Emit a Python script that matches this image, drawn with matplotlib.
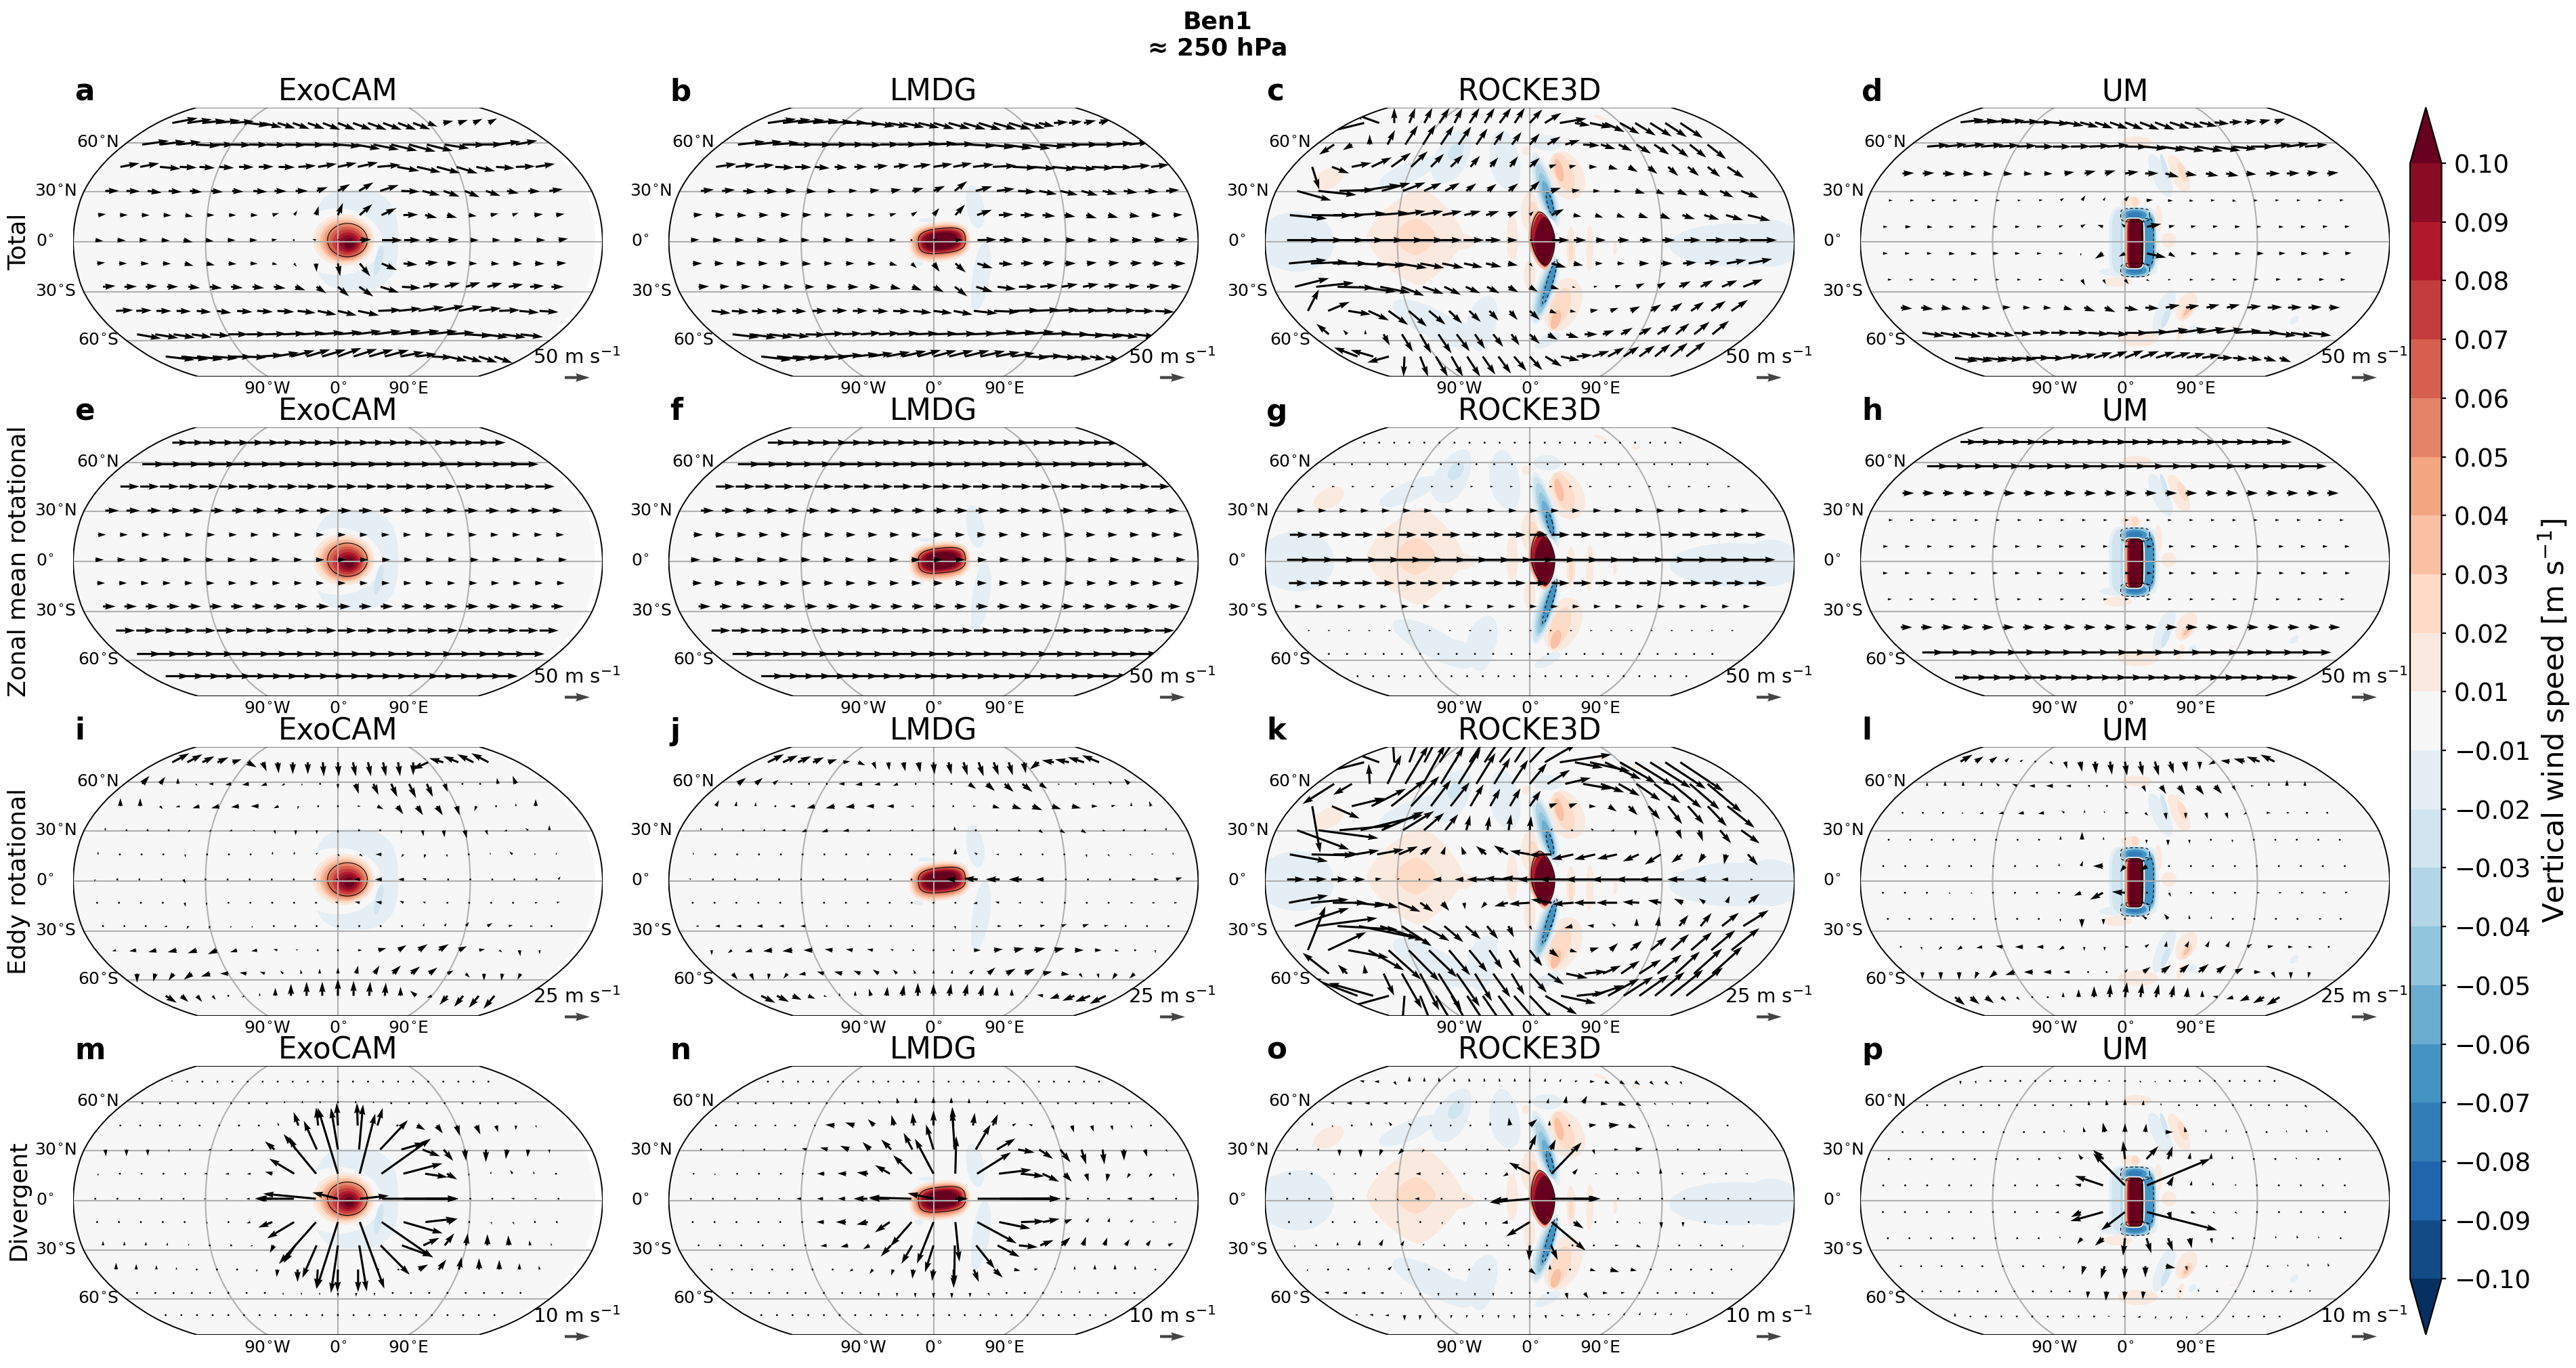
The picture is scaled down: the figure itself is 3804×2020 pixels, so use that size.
import matplotlib
matplotlib.use("Agg")
import matplotlib.pyplot as plt
import numpy as np
from matplotlib.colors import BoundaryNorm
from matplotlib.cm import ScalarMappable
from matplotlib.patches import Polygon
from matplotlib.ticker import FuncFormatter

models = ["ExoCAM", "LMDG", "ROCKE3D", "UM"]
row_names = ["Total", "Zonal mean rotational", "Eddy rotational", "Divergent"]
key_speeds = [50, 50, 25, 10]
panel_letters = "abcdefghijklmnop"
levels = [-0.10, -0.09, -0.08, -0.07, -0.06, -0.05, -0.04, -0.03, -0.02, -0.01,
          0.01, 0.02, 0.03, 0.04, 0.05, 0.06, 0.07, 0.08, 0.09, 0.10]

lats_11 = [74, 59, 45, 30.5, 16, 1, -13, -27, -41.5, -56, -71]
lats_um = [74.5, 57.7, 41, 24.8, 9, -7, -22.7, -39.5, -55, -72]
lons_22 = list(range(-165, 151, 15))
lons_23 = list(range(-165, 166, 15))

# zonal mean wind per arrow row, m/s
exocam_zonal = [34, 46, 38, 27, 16, 17, 16, 25, 38, 48, 47]
lmdg_zonal = [40, 46, 38, 26, 19, 19, 19, 24, 38, 48, 46]
rocke_zonal = [1, 3, 6, 16, 36, 50, 36, 14, 5, 3, 1]
um_zonal = [35, 44, 23, 8, 10, 10, 8, 23, 44, 36]

# eddy rotational wind, m/s
exocam_eddy_u = [
    [17, 15, 12, 11, 9, 9, 4, 1, 0, 0, 1, 1, 3, 3, 3, 2, 0, -16, -14, -15, -16, -17],
    [7, 5, 0, 2, -5, -6, -7, -6, -3, -1, 0, 0, 3, 5, 6, 7, 6, 3, 0, 0, -1, -3],
    [0, 0, 3, -4, -7, -8, -8, -8, -5, -1, 0, 0, 3, 6, 6, 6, 6, 3, -2, -2, 0, 0],
    [0, 0, 1, -1, -2, -2, -3, 2, 1, 0, 0, 0, 0, -1, 0, 1, 1, 2, 2, -3, -3, 0],
    [0, 0, 0, 0, 0, 0, 0, 0, 0, 0, 2, 2, 3, -6, -2, -1, 0, 0, -1, -3, 2, 1],
    [-1, 0, 0, 0, 2, 0, 0, 0, 0, 1, -3, -3, -6, -7, -6, -4, 0, 0, 0, 1, 2, 2],
    [0, 0, 0, 0, 1, 0, 1, 0, 0, 0, 0, -3, -5, -6, -4, -3, -1, 0, 0, 2, 3, 3],
    [0, 0, -2, -3, -2, -1, -1, -1, 0, 0, 0, 0, 0, 0, 0, 1, 2, 3, 5, 4, 3, 0],
    [-4, -7, -8, -9, -9, -9, -7, -6, -4, -2, 0, 0, 4, 8, 8, 9, 10, 8, 6, 3, 1, 0],
    [0, -2, -5, -8, -9, -8, -7, -5, -3, -1, 0, 0, 2, 5, 8, 9, 8, 6, 4, 0, -1, -3],
    [11, 7, 5, 3, 1, -2, 0, 0, 0, 0, 0, 0, 0, 1, 1, 0, -6, -5, -8, -9, -10, -11],
]
exocam_eddy_v = [
    [9, 8, 6, 5, 3, -5, -9, -11, -12, -12, -14, -14, -14, -14, -14, -14, -13, -7, 4, 6, 8, 9],
    [8, 7, 6, -2, 0, -1, -1, -2, -2, -2, -2, -5, -10, -11, -13, -14, -13, -8, -1, 0, 6, 8],
    [8, 8, -3, -1, -2, -2, -1, 0, -2, -3, -1, -1, 0, -3, -8, -9, -9, -9, -5, 0, 3, 7],
    [3, 2, -1, -1, -2, -2, -1, -1, -4, -5, -4, -3, -1, 0, -4, -6, -7, -8, -5, -1, 2, 5],
    [3, 1, 0, -1, -3, 0, 0, 0, 3, 3, 2, -2, -2, 0, -3, -4, -3, -1, 2, 3, 1, 2],
    [-2, -1, 0, -1, -4, -2, 0, 0, 1, -1, 0, 0, 0, 0, 0, 1, 1, 0, 0, 0, 0, 3],
    [2, 0, 0, 0, -4, -3, -1, 0, 0, 0, 0, 1, 1, 1, 2, 1, 0, 0, 0, 0, 0, 1],
    [0, -1, 0, -1, -3, -3, -2, -2, 0, 0, 0, 0, -1, 0, 2, 3, 3, 4, 3, 1, 0, -1],
    [-1, -1, -2, -2, -3, -4, -2, -1, 1, 1, 0, 0, 0, 2, 5, 6, 6, 4, 1, -2, -6, -4],
    [-9, -8, -7, -6, -3, 0, 1, 2, 3, 4, 5, 6, 8, 8, 8, 7, 6, 3, -4, -7, -7, -6],
    [-7, -6, -6, -4, -1, -2, 3, 8, 12, 14, 14, 17, 15, 14, 13, 9, 5, -2, -9, -11, -12, -13],
]
lmdg_eddy_u = [
    [16, 15, 13, 11, 9, 7, 7, 3, 1, 2, 2, 1, 3, 4, 5, 5, 4, 2, -9, -12, -14, -16, -17],
    [8, 7, 5, 0, 0, -2, -6, -7, -6, -5, 0, 0, 0, 7, 8, 9, 10, 7, 2, 0, 0, -3, -5],
    [3, 1, 0, -1, -5, -8, -9, -9, -8, -7, -3, 0, 0, 3, 7, 9, 10, 9, 9, 6, 4, 0, -2],
    [0, 0, 1, 0, -4, -5, -6, -6, -4, -2, 0, 0, 0, 1, 2, 3, 4, 5, 5, 3, 1, 0, 0],
    [-1, 0, 0, 0, 0, 0, 0, 0, 0, 0, 0, 0, 0, -3, -3, -1, 0, 0, 1, 2, 2, 2, -1],
    [-2, 0, 0, 0, 1, 0, 2, 2, 2, 3, 0, 0, -10, -14, -14, -13, -8, -1, 0, 2, 4, 5, 6],
    [0, 0, 0, 0, 0, 0, 1, 2, 2, 2, 0, 0, 0, -4, -4, -3, -3, 0, 0, 2, 3, 3, 3],
    [-3, -5, -5, -6, -5, -5, -1, 0, 0, 0, 0, 0, 1, 2, 4, 4, 5, 5, 6, 4, 2, 0, 0],
    [0, -4, -7, -9, -10, -9, -8, -7, -6, -3, -1, 0, 0, 7, 9, 10, 11, 10, 9, 7, 4, 0, 0],
    [5, 3, -1, -4, -7, -7, -8, -7, -6, -4, -2, 0, 1, 4, 7, 9, 10, 9, 8, 3, 1, -4, -5],
    [14, 12, 9, 7, 3, 0, 0, -2, 1, 2, 0, 0, 2, 3, 3, 1, 0, -3, -6, -9, -12, -15, -16],
]
lmdg_eddy_v = [
    [8, 7, 6, 5, 3, 1, -3, -7, -8, -9, -10, -12, -12, -13, -14, -13, -13, -11, -7, 2, 3, 5, 7],
    [6, 6, 4, 0, 0, 0, 0, -1, -1, -2, 0, 0, -1, -5, -7, -8, -8, -5, -1, 0, 0, 3, 5],
    [6, 5, 4, -1, 0, -2, -2, -1, 0, 0, 0, 0, 0, 0, -2, -3, -4, -3, -2, 0, 1, 4, 5],
    [3, 3, -1, -1, 0, -2, -2, -1, -1, -1, -1, 0, 4, -1, 0, -1, -3, -3, -3, -1, 1, 1, 3],
    [2, 1, 0, 0, 1, 1, 1, 0, 0, 0, 0, 0, 6, 2, 0, 1, 1, 0, -3, -2, -1, 1, 2],
    [1, 0, 0, 0, -1, 0, 0, 0, 0, 0, 0, 0, 0, 1, 0, 0, 0, 0, 0, 0, 0, 0, 2],
    [0, 0, 0, 0, 0, -1, 0, 0, 0, 0, 0, 0, -2, -1, 1, 0, 1, -1, 0, 0, 0, 0, 0],
    [0, 0, 0, 0, 0, 0, 0, 0, 0, 0, 0, 0, -3, -1, 0, 1, 1, 2, 2, 1, 0, 0, 0],
    [-5, -3, -2, -1, -1, 0, 1, 1, 1, 1, 0, 0, 0, 0, 1, 2, 2, 2, 0, 0, -1, -2, -3],
    [-6, -7, -6, -5, -1, 2, 2, 3, 4, 4, 4, 4, 4, 4, 6, 5, 5, 2, -1, -4, -5, -6, -5],
    [-7, -6, -4, -3, -1, 3, 5, 7, 9, 11, 13, 12, 12, 12, 11, 9, 7, -2, 1, -3, -5, -6, -8],
]
um_eddy_u = [
    [12, 8, 7, 4, 3, 2, 3, 2, 2, 1, 2, 2, 3, 4, 4, 2, 0, -6, -9, -11, -13, -14],
    [0, 0, 0, 1, -3, -5, -6, -7, -5, -1, 0, 2, 3, 5, 6, 7, 7, 3, 3, 0, 0, 0],
    [0, 0, 1, -2, -4, -5, -6, -6, -3, 0, -1, 4, 3, 1, 0, 2, 2, -3, 4, 3, 0, 0],
    [0, 0, 0, 0, 0, 0, -1, 0, 0, 0, 0, 1, 0, 0, 0, 0, 0, 0, 0, 0, 0, 0],
    [-1, 2, 1, 0, 0, 0, 0, 0, 0, 2, -10, -5, -7, 0, 0, 0, 0, 0, 0, 0, 0, 0],
    [0, 0, 0, 2, 2, 2, 1, 0, 0, -7, -13, -13, 0, 2, 0, 0, 1, 3, 3, 3, 3, 3],
    [0, 0, 0, 0, 0, 0, 0, 0, 0, 0, 0, 0, -4, -4, -1, 0, 0, 1, 2, 2, 3, 2],
    [0, 1, -3, -5, -6, -7, -8, -7, -5, 0, 0, 4, 4, 1, 3, 3, 3, 5, 6, 5, 4, 0],
    [0, 0, 0, -3, -7, -9, -9, -8, -6, -2, 0, 3, 7, 9, 9, 10, 9, 8, 7, 3, 0, -1],
    [10, 9, 8, 5, 3, 1, -1, 0, 0, 0, 1, 2, 2, 3, 3, 1, 0, -5, -7, -9, -11, -13],
]
um_eddy_v = [
    [7, 5, 5, 4, 2, 0, -3, -7, -10, -12, -13, -14, -14, -14, -12, -10, -8, -3, 1, 3, 5, 7],
    [4, 5, 5, 4, 3, 2, 0, 0, 0, 0, 1, -3, -6, -8, -9, -9, -8, -5, 0, 4, 6, 5],
    [1, 1, -1, -1, -1, -1, -1, -1, 2, 3, 2, 0, -3, -7, -6, -6, -6, -2, 0, 0, 1, 1],
    [0, 0, 0, 0, 0, 0, 0, 1, 4, 8, 3, 2, -4, -6, -4, -2, -3, 0, 0, 0, 0, 1],
    [0, 0, -1, 0, 0, 0, 0, 1, 3, 5, 0, -6, -5, -1, 0, 0, 0, 0, 0, 0, 1, 1],
    [0, 0, 0, -1, -1, 0, 0, 0, 0, -3, -7, 1, -1, -4, 0, 0, 0, 0, 0, 0, 0, 1],
    [0, 0, 0, 0, 0, 0, 0, 0, -3, -9, -6, -2, 3, 5, 4, 3, 1, 1, 0, 0, 0, 0],
    [-2, -3, -3, -3, -1, 1, 0, 0, -3, -4, -4, 0, 3, 6, 6, 6, 6, 3, 1, 0, 0, -1],
    [-7, -8, -8, -7, -6, -3, 0, 0, 0, 0, 0, 3, 5, 7, 8, 8, 7, 4, 0, -6, -7, -6],
    [-8, -7, -6, -4, -3, 0, -1, 5, 8, 11, 13, 15, 14, 13, 12, 10, 7, 1, -2, -4, -6, -8],
]

rocke_total_u = [
    [-82, -53, 0, 12, 16, 20, 16, 20, 20, 23, 20, 25, 33, 53, 30, 43, 39, 39, 41, 43, 43, 45],
    [-30, -18, 0, 15, 25, 25, 26, 25, 22, 19, 19, 20, 26, 29, 33, 29, 27, 29, 30, 33, 33, 37],
    [14, 34, 39, 40, 39, 33, 26, 25, 19, 16, 16, 20, 14, 14, 16, 18, 18, 18, 20, 22, 25, 33],
    [68, 76, 70, 78, 57, 45, 35, 29, 20, 18, 19, 20, 20, 16, 14, 14, 19, 16, 20, 20, 27, 35],
    [74, 80, 62, 60, 62, 53, 45, 39, 33, 26, 20, 8, 25, 16, 16, 16, 19, 20, 25, 30, 34, 45],
    [68, 68, 67, 62, 57, 53, 49, 41, 41, 31, 20, 7, 35, 25, 20, 23, 25, 26, 33, 39, 43, 53],
    [75, 74, 70, 66, 57, 57, 48, 43, 37, 31, 20, 6, 29, 19, 15, 15, 20, 23, 27, 30, 39, 47],
    [68, 75, 74, 74, 60, 45, 41, 33, 29, 25, 20, 16, 16, 6, 8, 12, 16, 16, 23, 25, 31, 39],
    [22, 43, 45, 41, 39, 36, 33, 26, 23, 18, 16, 20, 14, 12, 16, 16, 19, 21, 23, 26, 29, 33],
    [-25, -8, 0, 12, 22, 22, 26, 26, 20, 20, 16, 20, 19, 25, 26, 23, 23, 25, 27, 27, 31, 33],
    [-47, -45, -43, -2, 16, 24, 23, 26, 25, 25, 25, 25, 33, 37, 31, 34, 33, 31, 31, 31, 34, 38],
]
rocke_total_v = [
    [-20, 19, 30, 30, 30, 30, 30, 30, 30, 30, 30, 27, 20, 9, -5, -9, -18, -22, -25, -27, -28, -30],
    [-20, -11, 20, 29, 38, 40, 38, 36, 32, 27, 25, 22, 16, 9, -2, -9, -13, -18, -20, -25, -26, -29],
    [-45, -13, 8, 19, 28, 31, 26, 24, 22, 19, 21, 18, 5, 3, 0, -5, -10, -14, -18, -18, -20, -22],
    [-19, -8, 2, 12, 16, 17, 16, 16, 15, 14, 15, 20, 6, 2, 0, -1, -5, -7, -9, -11, -13, -14],
    [-7, -1, 0, 4, 5, 8, 8, 8, 8, 8, 8, 8, 12, -3, -5, -5, -6, -8, -8, -9, -10, -11],
    [0, 0, 0, 0, 0, 0, 0, 0, 0, 0, 0, 0, 0, 0, 0, 0, 0, 0, 0, 0, 0, 0],
    [7, 3, 0, -3, -5, -9, -9, -9, -8, -7, -4, -7, -8, -4, 0, 0, 0, 0, 2, 4, 7, 9],
    [17, 8, -2, -10, -12, -18, -14, -16, -13, -13, -11, -10, -5, -2, 1, 3, 7, 9, 11, 13, 13, 15],
    [43, 18, -7, -19, -28, -31, -27, -25, -22, -19, -18, -18, -5, -2, 2, 6, 9, 13, 16, 18, 20, 22],
    [21, 9, 9, -22, -35, -38, -38, -34, -29, -25, -22, -19, -11, -7, 0, 8, 13, 14, 19, 22, 25, 27],
    [18, 13, -12, -40, -40, -40, -40, -40, -36, -34, -29, -27, -20, -8, 3, 11, 18, 20, 22, 25, 27, 29],
]

# divergent wind, in 0.1 m/s
exocam_div_u = [
    [-3, 0, 2, 2, 2, 1, 2, 3, -3, -3, -2, -1, 1, 1, 1, 1, 1, 0, 0, 0, 0, 1],
    [0, 0, 0, 1, 1, 1, -2, -1, 0, 0, 0, 0, 0, 0, 0, 0, 1, 1, 1, 1, 1, 0],
    [0, 0, 1, 2, -3, -5, -5, -4, -4, -19, -8, -5, -3, 21, 0, 33, 24, 13, 16, 8, 0, 5],
    [3, 0, 1, 2, -5, -12, -14, -12, -38, -25, -52, -28, 16, 110, 94, 70, 38, 5, 0, -5, -3, 0],
    [0, 0, 0, -1, -6, -12, -14, -15, -30, -100, -130, -80, 62, 197, 156, 90, 41, 0, 3, -9, -5, 0],
    [0, 0, 0, -2, -7, -8, -10, -14, -60, -156, -210, -102, 115, 305, 215, 128, 41, 0, -8, -13, -10, 0],
    [0, 0, 2, 3, 4, 5, -8, -15, -56, -108, -148, -85, 98, 205, 156, 123, 41, 0, 3, 5, 3, 0],
    [0, 0, 1, 2, 3, 4, -5, -8, -16, -46, -57, -28, 30, 116, 123, 64, 38, 7, 0, -2, -3, -2],
    [0, 0, 0, -2, -1, -2, -3, -5, -3, 0, -5, -2, 0, 0, 0, 38, 30, 11, 0, 0, 0, -3],
    [0, 0, 0, 0, 0, 0, 0, 0, 0, 0, 0, 0, 0, 0, 0, 0, 0, 0, 0, 0, 0, 0],
    [-1, 0, 0, 0, 0, 0, 0, 0, 0, 0, 0, 0, 0, 0, 0, 0, 0, 0, 0, 0, 0, 0],
]
exocam_div_v = [
    [8, -8, -8, 4, 4, 1, 0, 3, 1, 2, 3, 3, 4, 3, 3, 3, 3, 0, 1, 1, 2, 1],
    [-5, -6, -6, -4, -2, 1, 3, 7, 10, 11, 11, 13, 12, 9, 6, 0, 2, 4, 3, 2, 1, 0],
    [-8, -8, -7, -4, -1, 0, 4, 6, 12, 54, 72, 90, 90, 70, 0, -18, -32, -41, -36, -27, -18, -9],
    [-27, -27, -25, -12, -3, -2, -5, -7, 33, 50, 115, 166, 180, 117, 27, -27, -45, -45, -50, -38, -30, -15],
    [-10, -8, -3, 2, 0, 0, -2, -2, 8, 60, 158, 263, 240, 140, 41, -14, -23, -10, 10, 15, 10, 5],
    [0, 0, 0, -2, -2, -3, -2, -1, 3, 0, 20, 25, 12, 0, 0, 0, 0, 0, 0, 2, 0, 0],
    [-2, 0, -5, -7, -7, -7, -2, -5, -22, -65, -167, -266, -266, -142, -45, 14, 14, -3, -10, -10, -5, -1],
    [18, 16, 15, 12, 8, 3, -2, -5, -30, -70, -130, -190, -183, -117, -45, 30, 48, 48, 45, 40, 20, 10],
    [27, 22, 18, 10, 5, 0, -3, -10, -30, -50, -77, -90, -90, 0, 0, 20, 40, 50, 45, 38, 25, 15],
    [8, 7, 4, 0, 0, 0, -7, -8, -10, -10, -10, -15, -15, -12, -8, 0, 3, 6, 8, 8, 7, 5],
    [3, 4, 3, 2, 1, 0, 0, 0, 0, 0, 0, 0, 0, 0, 0, 0, 0, 0, 0, 0, 0, 0],
]
lmdg_div_u = [
    [0, 0, 0, 0, 0, 0, 0, 0, 0, -1, -1, 0, 1, 1, 1, 0, 0, 0, 0, 0, 0, 0, 0],
    [0, 0, 0, 0, 0, 1, 1, 1, -10, -5, 0, 0, 0, 0, 5, 0, 0, 0, 0, 0, 0, 0, 0],
    [-2, -3, -5, 0, 0, -6, -37, -37, -25, -10, -5, 0, -4, 7, 20, 15, -15, 10, 8, 8, 6, 4, 0],
    [0, 0, 0, -2, -3, -20, -30, -35, -30, -40, -35, -30, -10, 59, 74, 66, 55, 40, 19, 7, 1, 9, 5],
    [0, -5, 0, 0, 0, -8, -30, -35, -45, -59, -74, -74, 4, 135, 130, 94, 66, 30, 10, -5, -12, -12, 3],
    [0, 0, -3, 0, -5, -20, -25, -30, -55, -80, -170, -103, 50, 330, 240, 155, 66, 20, 0, -15, -20, -20, -5],
    [0, 0, 0, 0, -3, -8, -30, -40, -45, -59, -85, -66, 16, 157, 125, 94, 66, 30, 10, 4, 13, 10, 10],
    [0, 0, 0, 0, 0, -8, -25, -30, -25, -40, -43, -34, -3, 74, 88, 75, 53, 35, 12, 12, 16, 16, 20],
    [0, 0, 0, 0, 0, 0, -6, -14, -14, -8, -4, -6, 0, 20, 35, 25, 15, 5, 0, 0, 0, 0, 0],
    [0, 0, 0, 0, 0, 0, 0, 0, 0, 0, 0, 0, 0, 0, 6, 5, 5, 3, 2, 0, 0, 0, 0],
    [0, 0, 0, 0, 0, 0, 0, 0, 0, 0, 0, 0, 0, 0, 0, 0, 0, 0, 0, 0, 0, 0, 0],
]
lmdg_div_v = [
    [0, 0, 0, 0, 0, 0, 2, 2, 2, 2, 3, 3, 3, 2, 2, 2, 1, 0, 0, 0, 0, 0, 0],
    [0, 0, -2, -3, -3, -1, -1, -2, 12, 22, 24, 26, 24, 20, 14, 2, 0, 0, 0, 0, 0, 0, 0],
    [0, 2, 2, -7, -7, -5, 3, 12, 25, 42, 50, 60, 74, 50, 45, 9, 5, -18, -28, -25, -20, -12, -5],
    [-3, -7, -9, -3, 0, 5, 8, 15, 30, 40, 66, 100, 155, 100, 44, -12, -37, -51, -59, -59, -44, -29, -10],
    [-8, -7, -7, 0, 0, 0, 0, 1, 5, 34, 74, 140, 150, 85, 16, -10, -32, -32, -32, -32, -18, -15, -12],
    [0, 0, 0, 0, 0, 0, 0, 0, 0, 0, 5, 22, 0, 0, 0, 0, 0, 0, 0, 0, 0, 0, 0],
    [0, 0, 0, 0, 0, 0, 0, 0, -10, -41, -97, -166, -158, -85, -26, 3, 13, 12, 18, 18, 10, 1, 1],
    [8, 8, 6, 0, 0, -2, -3, -6, -15, -44, -74, -107, -160, -93, -46, -7, 21, 32, 35, 32, 25, 22, 10],
    [3, 4, 4, 0, 0, 0, -2, -8, -17, -24, -37, -46, -74, -50, -32, -5, 3, 7, 15, 20, 20, 15, 8],
    [0, 0, 0, 0, 0, 0, 0, 0, -15, -15, -18, -22, -22, -18, -12, -2, 3, 6, 10, 10, 5, 2, 0],
    [1, 1, 1, 0, 0, 0, 0, 0, 0, 0, 0, 0, 0, 0, 0, 0, 0, 0, 0, 0, 0, 0, 0],
]
rocke_div_u = [
    [-18, -20, 10, 0, 0, -3, -3, -3, -3, -2, 0, 0, 3, 6, 12, 20, 20, 20, 20, 15, 14, 8],
    [-15, -22, -20, -18, -8, 0, 0, 0, 0, 0, 0, 0, 5, 5, 16, 28, 30, 20, 8, 5, 3, 0],
    [0, 5, 0, -3, -10, -12, 0, 0, 0, 0, -5, 30, 0, 0, 30, 42, 30, 3, 0, 0, 0, 0],
    [0, 0, 0, 0, -10, -20, -10, 0, 0, 0, 6, 26, 19, 0, 7, 17, 30, 0, 0, 0, 0, 6],
    [0, 8, 8, 0, -8, -20, -20, 0, 0, 0, -20, -83, 120, 18, 10, 0, -10, 0, 0, 0, 0, -10],
    [0, 5, 5, 0, 5, 5, -20, 0, 0, 0, -65, -160, 195, 100, 10, 0, 0, 0, 0, 0, 0, 0],
    [0, 3, 0, 0, -8, -10, -8, 0, 0, 0, -25, -94, 135, 40, 8, 0, 6, 2, 0, 0, 0, 0],
    [0, 0, 0, 5, 12, 10, 6, 0, 0, 0, 6, -3, 26, 0, 5, 15, 18, 6, 0, 0, 0, -3],
    [-5, 0, -2, 5, 14, 5, 0, 0, 0, 0, 0, 25, 0, 0, 22, 35, 25, 0, 0, 0, 0, 0],
    [-18, -18, -18, -15, -8, 0, 0, 0, 0, 0, 0, 0, 0, 6, 15, 20, 15, 3, 0, 0, 0, 0],
    [-10, -15, -15, 0, -2, -3, -3, -3, -1, 0, 0, 0, 4, 12, 15, 12, 8, 6, 5, 4, 5, 4],
]
rocke_div_v = [
    [4, 0, -15, 22, 18, 18, 15, 15, 15, 15, 15, 15, 15, 12, 5, 0, -10, -12, -14, -14, -14, -12],
    [0, 0, 0, 0, 0, 8, 6, 10, 12, 10, 10, 15, 20, 30, 30, -5, -10, -12, -8, -8, -5, -8],
    [15, -8, 0, 15, 15, 10, 0, 0, 3, 15, 32, 25, 20, 0, 3, 3, -10, -8, -1, 0, 0, -5],
    [3, 0, -27, -32, -26, -20, -12, 0, 0, 0, -9, 60, 40, 0, -20, 0, 5, 0, 0, 0, 0, -9],
    [0, 0, -3, 0, 0, 0, 0, 0, 0, -3, -10, 45, 125, 20, 0, -5, 10, 22, 3, 0, 0, 0],
    [0, -3, 0, 0, -8, -10, 0, 0, 0, 0, -10, -15, 0, 0, 0, 0, 0, 0, 0, 0, 0, 0],
    [-3, -3, 0, 0, 0, 0, 0, -10, -14, -14, -5, -57, -113, -25, 0, 0, -8, -25, -20, -5, 0, 0],
    [-10, 0, 15, 22, 25, 20, 8, 0, 0, 0, 2, -60, -58, 0, 3, 0, -8, -8, 0, 0, -3, -8],
    [-8, 0, 4, 10, 13, 0, 0, 0, -2, 0, -2, -20, 20, 0, -6, -10, -5, 0, 0, 0, 0, 0],
    [3, 0, 0, 0, -3, -14, -14, -12, -14, -14, -5, 0, 0, -25, -22, 0, 2, 0, 0, 0, 0, 0],
    [3, 3, -2, -22, -20, -15, -14, -12, -12, -14, -14, -14, -15, -5, 0, 5, 8, 10, 12, 12, 10, 8],
]
um_div_u = [
    [0, 3, 1, 0, 0, 0, 0, -1, -3, -5, -10, -5, 5, 3, 2, 2, 1, 0, 0, 0, 0, 3],
    [-3, -2, -2, -2, -2, 0, 0, 0, 0, -2, -4, 0, 3, 0, 0, 8, 0, 0, 0, 0, 0, 10],
    [0, 1, 2, 2, 2, 0, 0, -1, -2, -6, -8, 0, 4, 30, -5, 0, 0, 0, 0, -3, -5, -5],
    [0, 0, 1, 0, 0, 0, -3, -6, -10, -15, -42, -8, 47, 19, 4, 2, 0, 0, -3, -5, -3, -1],
    [0, 0, 0, 0, 0, 0, -5, -8, -15, -25, -112, -127, 253, 19, 4, 0, 8, -8, -3, 0, 0, 0],
    [0, 0, 0, 0, 0, 0, -6, -8, -15, -40, -130, -95, 280, 10, 19, 10, 10, 8, 0, 0, 0, 0],
    [0, 0, 0, 0, 0, 0, -3, -3, -4, -19, -34, -8, 19, 19, 8, 4, 0, 0, -2, -3, -3, -3],
    [0, 0, 0, 0, 0, 0, -1, -2, -3, -10, -15, -3, 0, 38, 5, 0, 0, 0, -1, -3, -4, -5],
    [0, 0, 0, 0, 0, 0, 0, 0, 0, -3, -3, -3, -3, 0, 0, -3, -2, 0, 0, 0, 5, 8],
    [0, -1, -1, 0, 0, 0, 0, 0, 0, 2, -8, -10, -12, -5, -4, -3, -2, -1, -1, -1, -1, 2],
]
um_div_v = [
    [-15, -12, -5, 0, 0, 0, 0, 0, 0, 0, 0, -2, -8, -8, -6, -5, -3, 0, 0, 0, 0, 5],
    [-6, -3, -2, -2, -2, 0, 0, 0, 8, 18, 22, 25, 20, 10, 0, 0, 0, 0, 0, 0, 0, -10],
    [0, 1, -2, -3, -3, 0, 0, 3, 10, 20, 38, 35, 33, 0, 22, 12, 12, 3, 0, 8, 12, 9],
    [0, 0, 1, 1, 0, 0, 1, 3, 10, 20, 36, 72, 51, 51, 26, 24, 14, 0, 7, 7, 7, 2],
    [0, 0, 0, 0, -1, 2, 0, 0, 0, 5, 38, 128, 106, 38, 18, 14, 5, 2, -4, 0, 0, 0],
    [0, 0, 0, 0, 0, 0, 0, 0, -3, -20, -36, -72, -72, -33, -5, -6, -6, 0, 3, 0, 0, 0],
    [0, 0, 0, 0, 0, 0, 0, 3, 8, -23, -30, -70, -60, -52, -40, -22, -8, 0, 10, 12, 8, 3],
    [0, 0, 0, 0, 0, 0, -3, -8, -14, -35, -50, -50, -45, -7, -18, -1, 0, 0, 0, 8, 12, 12],
    [3, -2, 0, 0, 0, 0, 0, 0, -5, -28, -38, -36, -32, -3, 0, 10, 7, 0, 0, 0, 2, 5],
    [15, 8, 5, 0, 0, 0, 0, 0, 0, 0, 3, 0, -5, -10, -12, -10, -8, -8, -6, -6, -8, -5],
]

# vertical wind contours read as nested shapes, painted in order:
# level, lon, lat, half width, half height, tilt[, squareness]
exocam_shapes = [
    (-0.015, 12, 1, 29, 30, 0, 3), (0.0, 0, 0, 30, 20, 0), (-0.025, 28, -11, 2.5, 9, -12),
    (0.015, 4, 1, 21, 15.5, 0), (0.025, 4.4, 0.8, 19, 14, 0), (0.035, 4.8, 0.6, 17, 12.6, 0),
    (0.045, 5.2, 0.4, 15.5, 11.4, 0), (0.055, 5.6, 0.2, 14, 10.2, 0), (0.065, 6, 0, 12, 9, 0),
    (0.075, 6.4, -0.2, 10, 7.6, 0), (0.085, 6.8, -0.4, 8, 6, 0), (0.095, 7.2, -0.6, 6, 4.6, 0),
    (0.105, 7.6, -0.8, 3.5, 3, 0),
]
lmdg_shapes = [
    (-0.015, 29, 21, 6, 13, 8), (-0.015, 33, -21, 6, 21, -6), (-0.015, -5, 13, 5, 1.2, 0),
    (-0.015, -10, -13, 3, 1.5, 0),
    (0.015, 4.2, 0, 21, 12, 5, 2.6), (0.025, 4.4, 0, 20, 11, 5, 2.6), (0.035, 4.5, 0, 19, 10, 5, 2.6),
    (0.045, 4.7, 0.2, 18, 9.2, 5, 2.6), (0.055, 5, 0.3, 17, 8.4, 5, 2.6), (0.065, 5.3, 0.5, 16, 7.6, 5, 2.6),
    (0.075, 5.3, 0.5, 15, 7, 5, 2.6), (0.085, 5.3, 0.5, 14, 6.4, 5, 2.6), (0.095, 5.3, 0.5, 13, 5.8, 5, 2.6),
    (0.105, 5.3, 0.5, 11, 5, 5, 2.6),
]
rocke_shapes = [
    (-0.015, -160, 0, 27, 18, 0), (-0.015, 140, -2, 45, 13, 0), (-0.015, 165, -1, 20, 14, 0),
    (-0.015, -62, 52, 14, 17, 0), (-0.025, -60, 55, 6, 6, 0), (-0.015, -90, 42, 20, 7, 20),
    (-0.015, -20, 50, 11, 20, 25), (-0.015, 15, 60, 12, 5, 0),
    (-0.015, -75, -50, 28, 11, -25), (-0.015, -38, -50, 10, 20, -35), (-0.015, -60, -55, 15, 8, 0),
    (-0.015, 15, -60, 11, 4, 20),
    (0.015, -147, 38, 10, 7, 0), (0.015, -3, 55, 3, 3, 0), (0.015, 75, 78, 5, 2, -15),
    (0.015, 100, 70, 3, 1, 0),
    (0.015, -78, 3, 33, 29, 0, 1.4), (0.015, -48, 0, 10, 5, 0), (0.025, -78, 3, 14, 11, 0, 1.5),
    (0.015, 28, -3, 3, 12, 0), (0.025, 28, -5, 1.5, 7, 0), (0.015, 41, -4, 2.5, 14, 0),
    (0.015, 58, -4, 1.2, 4, 0), (0.015, -12, 2, 4, 14, 0),
    (0.015, 27, 40, 13, 15, 25), (0.025, 25, 42, 7, 12, 20), (0.035, 22, 43, 3, 7, 10),
    (0.015, 24, -38, 13, 17, -25), (0.025, 22, -40, 7, 13, -20), (0.035, 20, -47, 3.5, 6, -15),
    (-0.015, 11, 31, 7, 24, 18), (-0.025, 11, 31, 5.6, 21, 18), (-0.035, 11.5, 30, 4.6, 18, 18),
    (-0.045, 12, 28, 3.6, 14, 18), (-0.055, 13, 26, 2.8, 11, 18), (-0.065, 14, 23, 1.8, 7, 15),
    (-0.015, 11, -29, 7, 22, -20), (-0.025, 11, -29, 5.6, 20, -20), (-0.035, 11.5, -28, 4.6, 18, -20),
    (-0.045, 12, -28, 3.6, 16, -20), (-0.055, 13, -26, 3, 14, -20), (-0.065, 14, -24, 2.2, 11, -18),
    (0.0, 11, 1, 9, 14, 0),
    (0.015, 0, 18, 6, 12, 0), (0.015, 0, -20, 4, 9, 0), (0.025, 2, 16, 3.5, 8, 0),
    (0.035, 8, 1, 9, 18, 8, 1.6), (0.055, 8.5, 1.5, 8.5, 17, 8, 1.6), (0.085, 9, 1, 8, 16, 6, 1.6),
    (0.105, 10, 0.5, 7, 14.5, 0, 1.6),
]
um_shapes = [
    (-0.015, 6, 0, 17, 21, 0, 5), (-0.015, 2, -18, 20, 3, 0),
    (-0.025, 6, 0, 15, 20, 0, 5), (-0.035, 8, 0, 11, 18, 0, 5),
    (-0.045, 15, 0, 6, 17, 0, 4), (-0.055, 15, 0, 5, 16, 0, 4), (-0.065, 15.5, 0, 4, 15, 0, 4),
    (-0.045, 7, 16, 10, 4.5, 0), (-0.065, 7, 16, 8, 3, 0), (-0.075, 7, 16, 5, 1.8, 0),
    (-0.045, 7, -17, 10, 4.5, 0), (-0.065, 7, -17, 8, 3, 0), (-0.075, 7, -17, 5, 1.8, 0),
    (0.0, 6, -1, 7.5, 15.5, 0, 5), (0.025, 6, -1, 6.5, 15, 0, 6), (0.045, 6.5, -1, 6, 14.8, 0, 6),
    (0.085, 7, -1, 5.5, 14.5, 0, 6), (0.105, 7.5, -1, 5, 14.5, 0, 6),
    (0.015, 30, 1, 5, 4.5, 0), (0.015, 23, 14, 2.5, 8, 0), (0.015, 4, 24, 7, 3, 0),
    (0.025, 7, 24, 2.5, 3, 0), (0.015, -5, -24, 10, 3, 0),
    (-0.015, 26, 40, 6, 14, 25), (-0.025, 30, 45, 2, 8, 10),
    (0.015, 40, 41, 6, 12, 20), (0.025, 43, 42, 3, 6, 15),
    (-0.015, 29, -42, 6, 14, -20), (-0.025, 31, -46, 2.5, 6, -15),
    (0.015, 45, -39, 7, 9, -30), (0.025, 46, -42, 3.5, 5, -30), (0.035, 46, -42, 1.5, 3, -30),
    (0.015, 10, 61, 13, 3.5, 0), (0.015, 11, -59, 17, 5, 0), (0.015, 45, -55, 2.5, 5, 0),
    (-0.015, 54, -53, 3, 2.5, 0), (-0.015, 130, -47, 3, 2.5, -30), (0.015, 85, -51, 2, 0.5, 0),
]

# lon, lat, half width, half height, tilt[, squareness]
exocam_solid = [(6.5, 1, 13.5, 10, 0)]
lmdg_solid = [(5.7, 0.6, 16, 7.4, 5, 3)]
rocke_solid = [(9, 2, 8, 16, 8, 1.7)]
um_solid = [(6, -1, 6, 14.5, 0, 6)]
exocam_dashed = []
lmdg_dashed = []
rocke_dashed = [(14, 23, 1.8, 7, 15), (14, -24, 2, 14, -18)]
um_dashed = [(7, 16, 10, 4, 0, 4), (7, -17, 10, 4, 0, 4), (15.5, 0, 4, 14, 0, 4)]

# right edge of the filled background per model
fill_edges = [175, 180, 180, 180]

# Robinson table, every 5 degrees
rob_lat = np.arange(0, 95, 5)
rob_x = [1.0, 0.9986, 0.9954, 0.99, 0.9822, 0.973, 0.96, 0.9427, 0.9216, 0.8962, 0.8679,
         0.835, 0.7986, 0.7597, 0.7186, 0.6732, 0.6213, 0.5722, 0.5322]
rob_y = [0.0, 0.062, 0.124, 0.186, 0.248, 0.31, 0.372, 0.434, 0.4958, 0.5571, 0.6176,
         0.6769, 0.7346, 0.7903, 0.8435, 0.8936, 0.9394, 0.9761, 1.0]

FIG_W, FIG_H = 3805, 2020
AX_W, AX_H = 782, 397
COL_LEFT = [108, 987.5, 1868, 2747]
ROW_TOP = [158.5, 630.5, 1102.5, 1574]
ARROW_PX = 37


def robinson(lon, lat):
    lon = np.clip(np.asarray(lon, float), -180, 180)
    lat = np.clip(np.asarray(lat, float), -90, 90)
    x = AX_W / 2 * np.interp(np.abs(lat), rob_lat, rob_x) * lon / 180
    y = AX_H / 2 * np.sign(lat) * np.interp(np.abs(lat), rob_lat, rob_y)
    return x, y


def globe_outline(east=180):
    lat = np.linspace(-90, 90, 91)
    xw, yw = robinson(np.full_like(lat, -180), lat)
    xe, ye = robinson(np.full_like(lat, east), lat[::-1])
    return np.column_stack([np.r_[xw, xe], np.r_[yw, ye]])


def shape_xy(lon, lat, a, b, tilt, square=2):
    t = np.linspace(0, 2 * np.pi, 121)
    c, s = np.cos(t), np.sin(t)
    ex = a * np.sign(c) * np.abs(c) ** (2 / square)
    ey = b * np.sign(s) * np.abs(s) ** (2 / square)
    th = np.deg2rad(tilt)
    return robinson(lon + ex * np.cos(th) - ey * np.sin(th), lat + ex * np.sin(th) + ey * np.cos(th))


cmap = plt.get_cmap("RdBu_r", 21)
norm = BoundaryNorm(levels, ncolors=cmap.N, extend="both")

# wind parts per model: lons, lats, zonal, eddy, divergent
exocam_u = np.array(exocam_eddy_u, float), np.array(exocam_div_u, float) / 10
exocam_v = np.array(exocam_eddy_v, float), np.array(exocam_div_v, float) / 10
lmdg_u = np.array(lmdg_eddy_u, float), np.array(lmdg_div_u, float) / 10
lmdg_v = np.array(lmdg_eddy_v, float), np.array(lmdg_div_v, float) / 10
um_u = np.array(um_eddy_u, float), np.array(um_div_u, float) / 10
um_v = np.array(um_eddy_v, float), np.array(um_div_v, float) / 10
rocke_du = np.array(rocke_div_u, float) / 10
rocke_dv = np.array(rocke_div_v, float) / 10
rocke_u = np.array(rocke_total_u, float) - np.array(rocke_zonal)[:, None] - rocke_du, rocke_du
rocke_v = np.array(rocke_total_v, float) - rocke_dv, rocke_dv

winds = [
    (lons_22, lats_11, exocam_zonal, exocam_u, exocam_v),
    (lons_23, lats_11, lmdg_zonal, lmdg_u, lmdg_v),
    (lons_22, lats_11, rocke_zonal, rocke_u, rocke_v),
    (lons_22, lats_um, um_zonal, um_u, um_v),
]
shapes = [exocam_shapes, lmdg_shapes, rocke_shapes, um_shapes]
solid = [exocam_solid, lmdg_solid, rocke_solid, um_solid]
dashed = [exocam_dashed, lmdg_dashed, rocke_dashed, um_dashed]

fig = plt.figure(figsize=(FIG_W / 200, FIG_H / 200), dpi=200)

for r, row_name in enumerate(row_names):
    fig.text(28 / FIG_W, 1 - (ROW_TOP[r] + AX_H / 2) / FIG_H, row_name, rotation=90,
             ha="center", va="center", fontsize=13)
    for c, model in enumerate(models):
        ax = fig.add_axes([COL_LEFT[c] / FIG_W, 1 - (ROW_TOP[r] + AX_H) / FIG_H, AX_W / FIG_W, AX_H / FIG_H])
        ax.set_xlim(-AX_W / 2, AX_W / 2)
        ax.set_ylim(-AX_H / 2, AX_H / 2)
        ax.axis("off")

        clip = Polygon(globe_outline(), closed=True, transform=ax.transData, facecolor="none", edgecolor="none")
        ax.add_patch(clip)
        bg = globe_outline(fill_edges[c])
        ax.fill(bg[:, 0], bg[:, 1], color=cmap(norm(0.0)), lw=0, zorder=1)
        for sh in shapes[c]:
            sx, sy = shape_xy(*sh[1:])
            ax.fill(sx, sy, color=cmap(norm(sh[0])), lw=0, zorder=1.5)[0].set_clip_path(clip)
        for sh in solid[c]:
            sx, sy = shape_xy(*sh)
            ax.plot(sx, sy, color="k", lw=0.4, zorder=2)
        for sh in dashed[c]:
            sx, sy = shape_xy(*sh)
            ax.plot(sx, sy, color="k", lw=0.4, ls=(0, (4, 3)), zorder=2)

        # grid
        for lat in [-60, -30, 0, 30, 60]:
            gx, gy = robinson([-180, 180], [lat, lat])
            ax.plot(gx, gy, color="#b0b0b0", lw=0.75, zorder=3)
        for lon in [-90, 0, 90]:
            glat = np.linspace(-90, 90, 61)
            gx, gy = robinson(np.full_like(glat, lon), glat)
            ax.plot(gx, gy, color="#b0b0b0", lw=0.75, zorder=3)

        # wind arrows for this row
        lons, lats, zonal, part_u, part_v = winds[c]
        eddy_u, div_u = part_u
        eddy_v, div_v = part_v
        zon = np.array(zonal, float)[:, None] * np.ones_like(eddy_u)
        if r == 0:
            U, V = zon + eddy_u + div_u, eddy_v + div_v
        elif r == 1:
            U, V = zon, np.zeros_like(eddy_v)
        elif r == 2:
            U, V = eddy_u, eddy_v
        else:
            U, V = div_u, div_v
        LON, LAT = np.meshgrid(lons, lats)
        X, Y = robinson(LON, LAT)
        q = ax.quiver(X, Y, U, V, angles="xy", scale_units="xy", scale=key_speeds[r] / ARROW_PX,
                      units="dots", width=3.1, color="k", zorder=4)
        q.set_clip_path(clip)
        # the key arrow is drawn thicker than the field arrows
        q_key = ax.quiver([0], [0], [np.nan], [np.nan], angles="xy", scale_units="xy",
                          scale=key_speeds[r] / ARROW_PX, units="dots", width=4.2)
        ax.quiverkey(q_key, 0.951, -0.005, key_speeds[r], f"{key_speeds[r]} m s$^{{-1}}$", labelpos="N",
                     coordinates="axes", color="#444444", labelsep=0.07, fontproperties={"size": 10.5})

        ax.plot(*globe_outline().T, color="k", lw=0.7, zorder=5, solid_joinstyle="miter")
        ax.plot(*np.vstack([globe_outline()[0], globe_outline()[-1]]).T, color="k", lw=0.7, zorder=5)

        # labels
        ax.text(0, AX_H / 2 + 10, model, ha="center", va="baseline", fontsize=15.7, clip_on=False)
        ax.text(-AX_W / 2 + 2, AX_H / 2 + 10, panel_letters[r * 4 + c], ha="left", va="baseline",
                fontsize=15.7, fontweight="bold", clip_on=False)
        for lat, gap in [(60, 12), (30, 11), (0, 29), (-30, 11), (-60, 12)]:
            edge_x, edge_y = robinson(-180, lat)
            hemi = "" if lat == 0 else ("N" if lat > 0 else "S")
            ax.text(edge_x - gap, edge_y, f"{abs(lat)}$^{{\\circ}}${hemi}", ha="right", va="center",
                    fontsize=9, clip_on=False)
        for lon, name in [(-90, "90$^{\\circ}$W"), (0, "0$^{\\circ}$"), (90, "90$^{\\circ}$E")]:
            tx, _ = robinson(lon, 90)
            ax.text(tx, -AX_H / 2 - 20, name, ha="center", va="center", fontsize=9, clip_on=False)

# the colorbar axes includes the two end triangles
cax = fig.add_axes([3559 / FIG_W, 1 - 1970.7 / FIG_H, 46.5 / FIG_W, (1970.7 - 158.7) / FIG_H])
cb = fig.colorbar(ScalarMappable(norm=norm, cmap=cmap), cax=cax, extend="both", ticks=levels,
                  extendfrac=0.05, spacing="uniform",
                  format=FuncFormatter(lambda v, _: f"{v:.2f}".replace("-", "\u2212")))
cb.ax.tick_params(labelsize=13.3, length=2.6, width=0.8, pad=4)
fig.text(3772 / FIG_W, 1 - 1064 / FIG_H, "Vertical wind speed [m s$^{-1}$]", rotation=90,
         ha="center", va="center", fontsize=15.6)

fig.text(1798 / FIG_W, 1 - 52 / FIG_H, "Ben1\n\u2248 250 hPa", ha="center", va="center",
         fontsize=13, fontweight="bold")

fig.savefig("out.png", dpi=200)
